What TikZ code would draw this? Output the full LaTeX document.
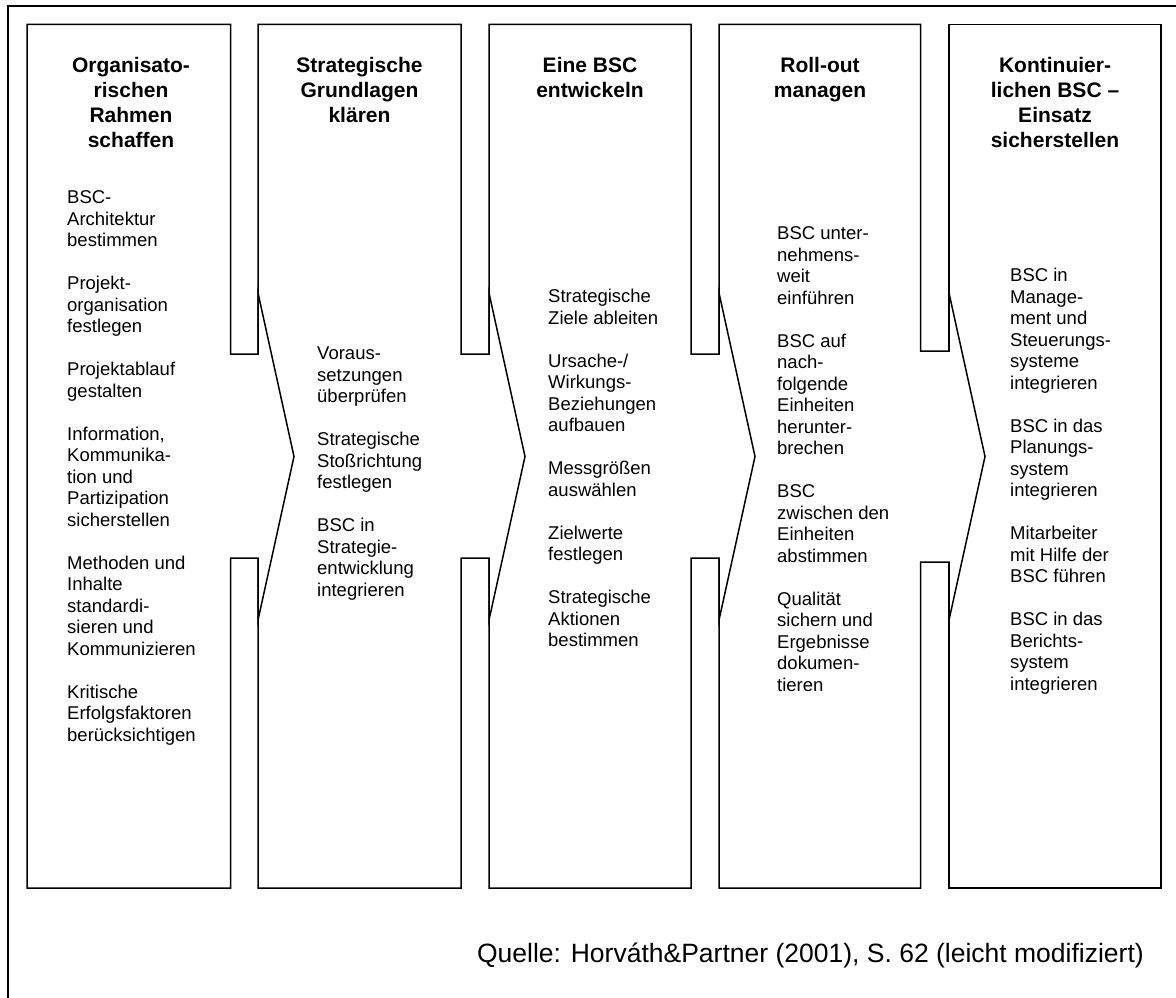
\documentclass[tikz,border=0pt]{standalone}
\usepackage{fontspec}
\setmainfont{Liberation Sans}
% one phase column whose right side carries an arrow into the next column
% #1 left edge, #2 right edge, #3 left edge of the next column, #4/#5 shaft top/bottom
\newcommand\phasearrow[5]{%
  \draw[phase] (#1,24.5) -- (#2,24.5) -- (#2,#4) -- (#3,#4) -- (#3,293)
    -- ({#3+36},456.5) -- (#3,620) -- (#3,#5) -- (#2,#5) -- (#2,888)
    -- (#1,888) -- cycle;}
\begin{document}
\begin{tikzpicture}[x=1pt,y=-1pt,
  outline/.style={line width=1.5pt, line join=miter},
  phase/.style={outline, fill=white},
  head/.style={anchor=north, align=center, inner sep=0pt,
    font=\bfseries\fontsize{21}{25}\selectfont},
  body/.style={anchor=north west, align=left, inner sep=0pt,
    font=\fontsize{18.5}{21.5}\selectfont},
  source/.style={anchor=base east, inner sep=0pt,
    font=\fontsize{26.5}{30}\selectfont}]
\useasboundingbox (0,0) rectangle (1176,998);

% outer frame (top and left edges)
\draw[outline] (1180,6) -- (8,6) -- (8,1002);

% phase columns, drawn right to left so each arrow covers the next column's edge
\draw[phase] (949,24.5) rectangle (1161,888);
\phasearrow{719}{920.5}{949}{351}{562}
\phasearrow{489}{691}{719}{354}{558}
\phasearrow{258}{461}{489}{354}{558}
\phasearrow{27}{230.5}{258}{354}{558}

% headings
\node[head] (h1) at (131,54.5) {\strut Organisato-\\rischen\\Rahmen\\schaffen};
\node[head] (h2) at (359.5,54.5) {\strut Strategische\\Grundlagen\\klären};
\node[head] (h3) at (590,54.5) {\strut Eine BSC\\entwickeln};
\node[head] (h4) at (820,54.5) {\strut Roll-out\\managen};
\node[head] (h5) at (1055,54.5) {\strut Kontinuier-\\lichen BSC –\\Einsatz\\sicherstellen};

% activities
\node[body] (b1) at (67,188.5) {\strut BSC-\\Architektur\\bestimmen\\[21.5pt]
  Projekt-\\organisation\\festlegen\\[21.5pt]
  Projektablauf\\gestalten\\[21.5pt]
  Information,\\Kommunika-\\tion und\\Partizipation\\sicherstellen\\[21.5pt]
  Methoden und\\Inhalte\\standardi-\\sieren und\\Kommunizieren\\[21.5pt]
  Kritische\\Erfolgsfaktoren\\berücksichtigen};
\node[body] (b2) at (317,344.5) {\strut Voraus-\\setzungen\\überprüfen\\[21.5pt]
  Strategische\\Stoßrichtung\\festlegen\\[21.5pt]
  BSC in\\Strategie-\\entwicklung\\integrieren};
\node[body] (b3) at (548,287.5) {\strut Strategische\\Ziele ableiten\\[21.5pt]
  Ursache-/\\Wirkungs-\\Beziehungen\\aufbauen\\[21.5pt]
  Messgrößen\\auswählen\\[21.5pt]
  Zielwerte\\festlegen\\[21.5pt]
  Strategische\\Aktionen\\bestimmen};
\node[body] (b4) at (777,224.5) {\strut BSC unter-\\nehmens-\\weit\\einführen\\[21.5pt]
  BSC auf\\nach-\\folgende\\Einheiten\\herunter-\\brechen\\[21.5pt]
  BSC\\zwischen den\\Einheiten\\abstimmen\\[21.5pt]
  Qualität\\sichern und\\Ergebnisse\\dokumen-\\tieren};
\node[body] (b5) at (1010,266.5) {\strut BSC in\\Manage-\\ment und\\Steuerungs-\\systeme\\integrieren\\[21.5pt]
  BSC in das\\Planungs-\\system\\integrieren\\[21.5pt]
  Mitarbeiter\\mit Hilfe der\\BSC führen\\[21.5pt]
  BSC in das\\Berichts-\\system\\integrieren};

% source line
\node[source] (src) at (1144,962.5) {Quelle: Horváth\&Partner (2001), S.~62 (leicht modifiziert)};
\end{tikzpicture}
\end{document}
